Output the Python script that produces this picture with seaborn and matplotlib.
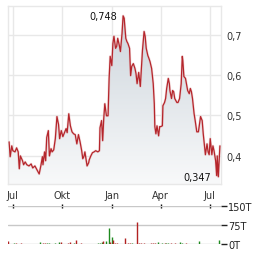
import numpy as np
import pandas as pd
import matplotlib
matplotlib.use("Agg")
import matplotlib.pyplot as plt
import matplotlib.dates as mdates
import seaborn as sns
from matplotlib.colors import LinearSegmentedColormap
from matplotlib.ticker import FuncFormatter

# ---------------- data ----------------
base_date = "2023-07-01"
price_days = [-7, -5, -2, 0, 4, 7, 10, 12, 14, 18, 20, 23, 26, 30, 34, 37, 41, 45, 49, 52,
              55, 56, 59, 61, 63, 66, 68, 71, 73, 76, 79, 82, 85, 87, 90, 93, 96, 99, 101, 104,
              107, 110, 113, 116, 119, 122, 125, 128, 130, 132, 134, 136, 138, 141, 142, 145, 148, 151, 154, 158,
              161, 162, 165, 167, 169, 171, 174, 177, 179, 181, 184, 186, 188, 191, 193, 195, 198, 200, 203, 205,
              207, 210, 212, 214, 217, 219, 221, 224, 227, 229, 231, 234, 237, 240, 241, 244, 246, 248, 251, 253,
              255, 258, 261, 263, 264, 266, 268, 271, 273, 275, 278, 279, 282, 284, 286, 289, 291, 292, 295, 297,
              299, 301, 305, 307, 310, 313, 315, 316, 318, 321, 325, 328, 330, 332, 334, 337, 339, 342, 345, 347,
              349, 352, 354, 356, 358, 361, 363, 365, 367, 370, 372, 374, 377, 379, 380, 382, 385]
price_values = [0.434, 0.397, 0.424, 0.412, 0.409, 0.419, 0.409, 0.367, 0.399, 0.387, 0.377, 0.384, 0.377, 0.374, 0.379, 0.369, 0.374, 0.364, 0.354, 0.374,
                0.397, 0.377, 0.409, 0.387, 0.445, 0.462, 0.399, 0.417, 0.409, 0.414, 0.442, 0.497, 0.477, 0.442, 0.462, 0.447, 0.457, 0.467, 0.457, 0.504,
                0.474, 0.459, 0.454, 0.452, 0.429, 0.452, 0.434, 0.412, 0.392, 0.397, 0.409, 0.392, 0.374, 0.382, 0.389, 0.399, 0.407, 0.409, 0.412, 0.409,
                0.412, 0.469, 0.487, 0.437, 0.492, 0.529, 0.499, 0.499, 0.592, 0.647, 0.624, 0.679, 0.697, 0.667, 0.672, 0.692, 0.674, 0.659, 0.704, 0.748,
                0.742, 0.692, 0.684, 0.679, 0.667, 0.599, 0.622, 0.629, 0.617, 0.604, 0.579, 0.607, 0.572, 0.637, 0.662, 0.709, 0.697, 0.667, 0.649, 0.642,
                0.634, 0.617, 0.579, 0.529, 0.472, 0.454, 0.474, 0.449, 0.472, 0.472, 0.474, 0.524, 0.532, 0.542, 0.567, 0.592, 0.579, 0.562, 0.542, 0.562,
                0.559, 0.542, 0.532, 0.532, 0.542, 0.579, 0.647, 0.637, 0.597, 0.592, 0.562, 0.554, 0.567, 0.559, 0.542, 0.504, 0.487, 0.459, 0.459, 0.479,
                0.497, 0.487, 0.454, 0.429, 0.402, 0.429, 0.409, 0.402, 0.442, 0.402, 0.424, 0.412, 0.387, 0.350, 0.399, 0.347, 0.424]

vol_days = [-9, 2, 6, 15, 50, 56, 60, 63, 67, 78, 86, 89, 102, 106, 114, 117, 127, 158, 162, 166,
            168, 173, 179, 181, 184, 186, 190, 194, 209, 214, 217, 221, 231, 234, 238, 244, 256, 260, 264, 270,
            277, 282, 285, 289, 294, 302, 311, 314, 322, 347, 384]
vol_values = [10, 3, 3, 2, 8, 3, 3, 3, 3, 2, 8, 7, 3, 7, 3, 15, 3, 4, 4, 6,
              10, 10, 62, 8, 27, 15, 4, 4, 24, 5, 4, 4, 88, 5, 4, 3, 4, 3, 3, 6,
              4, 4, 5, 4, 3, 3, 8, 3, 3, 12, 14]
vol_up = [0, 1, 0, 0, 1, 0, 0, 1, 1, 1, 1, 0, 0, 0, 1, 0, 0, 1, 1, 1,
          0, 1, 1, 0, 1, 0, 0, 0, 0, 0, 0, 1, 0, 0, 0, 0, 0, 0, 0, 1,
          1, 0, 1, 1, 0, 0, 1, 1, 0, 1, 1]

tick_dates = ["2023-07-01", "2023-10-01", "2024-01-01", "2024-04-01", "2024-07-01"]
tick_labels = ["Jul", "Okt", "Jan", "Apr", "Jul"]
price_ticks = [0.4, 0.5, 0.6, 0.7]
vol_ticks = [0, 75, 150]
vol_tick_labels = ["0T", "75T", "150T"]
max_label = "0,748"
min_label = "0,347"

# ---------------- build ----------------
base = pd.Timestamp(base_date)
df = pd.DataFrame({"date": base + pd.to_timedelta(price_days, unit="D"), "price": price_values})
vdf = pd.DataFrame({"date": base + pd.to_timedelta(vol_days, unit="D"), "vol": vol_values,
                    "up": vol_up})

sns.set_theme(style="white")
plt.rcParams["font.family"] = ["DejaVu Sans"]

W, H = 264, 255
fig = plt.figure(figsize=(W / 100, H / 100), dpi=100)
ax = fig.add_axes([8 / W, 1 - 185 / H, 213 / W, 178 / H])
axv = fig.add_axes([8 / W, 1 - 245 / H, 213 / W, 38 / H])

xmin = base - pd.Timedelta(days=9)
xmax = base + pd.Timedelta(days=387)
ymin, ymax = 0.329, 0.7725

grid_c = "#e8e8e8"
text_c = "#333333"
line_c = "#b5262c"

# gradient fill under the line
xnum = mdates.date2num(df["date"])
poly = ax.fill_between(xnum, df["price"], ymin, color="none", lw=0)
cmap = LinearSegmentedColormap.from_list("g", ["#f8f9fa", "#cdd5dc"])
im = ax.imshow(np.linspace(1, 0, 256).reshape(-1, 1),
               extent=[mdates.date2num(xmin), mdates.date2num(xmax), ymin, 0.75],
               aspect="auto", cmap=cmap, origin="upper", zorder=1, interpolation="bicubic")
im.set_clip_path(poly.get_paths()[0], transform=ax.transData)

sns.lineplot(data=df, x="date", y="price", ax=ax, color="#e6b3b5", lw=1.8, zorder=2, alpha=0.5)
sns.lineplot(data=df, x="date", y="price", ax=ax, color=line_c, lw=0.9, zorder=3)

ax.set_xlim(xmin, xmax)
ax.set_ylim(ymin, ymax)
ax.set_xlabel("")
ax.set_ylabel("")
tks = pd.to_datetime(tick_dates)
ax.set_xticks(tks)
ax.set_xticklabels(tick_labels)
ax.set_yticks(price_ticks)
ax.yaxis.set_major_formatter(FuncFormatter(lambda v, p: f"{v:.1f}".replace(".", ",")))
ax.yaxis.tick_right()
ax.tick_params(axis="both", length=0, labelsize=7, colors=text_c)
ax.tick_params(axis="y", pad=4)
ax.tick_params(axis="x", pad=4)
ax.grid(True, color=grid_c, lw=1)
ax.set_axisbelow(True)
for s in ax.spines.values():
    s.set_color(grid_c)
    s.set_linewidth(1)

# min / max annotations
imax = int(np.argmax(price_values))
imin = int(np.argmin(price_values))
ax.annotate(max_label, (df["date"][imax], price_values[imax]), xytext=(-4, 0),
            textcoords="offset points", ha="right", va="center", fontsize=7, color="#111111")
ax.annotate(min_label, (df["date"][imin], price_values[imin]), xytext=(-5, 0),
            textcoords="offset points", ha="right", va="center", fontsize=7, color="#111111")

# volume
colors = np.where(vdf["up"] == 1, "#1f8a1f", "#b22222")
axv.vlines(vdf["date"], 0, vdf["vol"], colors=colors, lw=1.0, zorder=3)
axv.set_xlim(xmin, xmax)
axv.set_ylim(0, 150)
axv.set_yticks(vol_ticks)
axv.set_yticklabels(vol_tick_labels)
axv.yaxis.tick_right()
axv.tick_params(axis="y", length=4, width=1, colors="#222222", labelsize=7, pad=1)
axv.set_xticks(tks)
axv.tick_params(axis="x", top=True, bottom=False, labeltop=False, labelbottom=False,
                direction="inout", length=3, width=1, color="#111111")
axv.grid(True, axis="y", color="#c8c8c8", lw=1)
axv.grid(False, axis="x")
for s in axv.spines.values():
    s.set_visible(False)
axv.set_xlabel("")
axv.set_ylabel("")

fig.savefig("out.png", dpi=100)
